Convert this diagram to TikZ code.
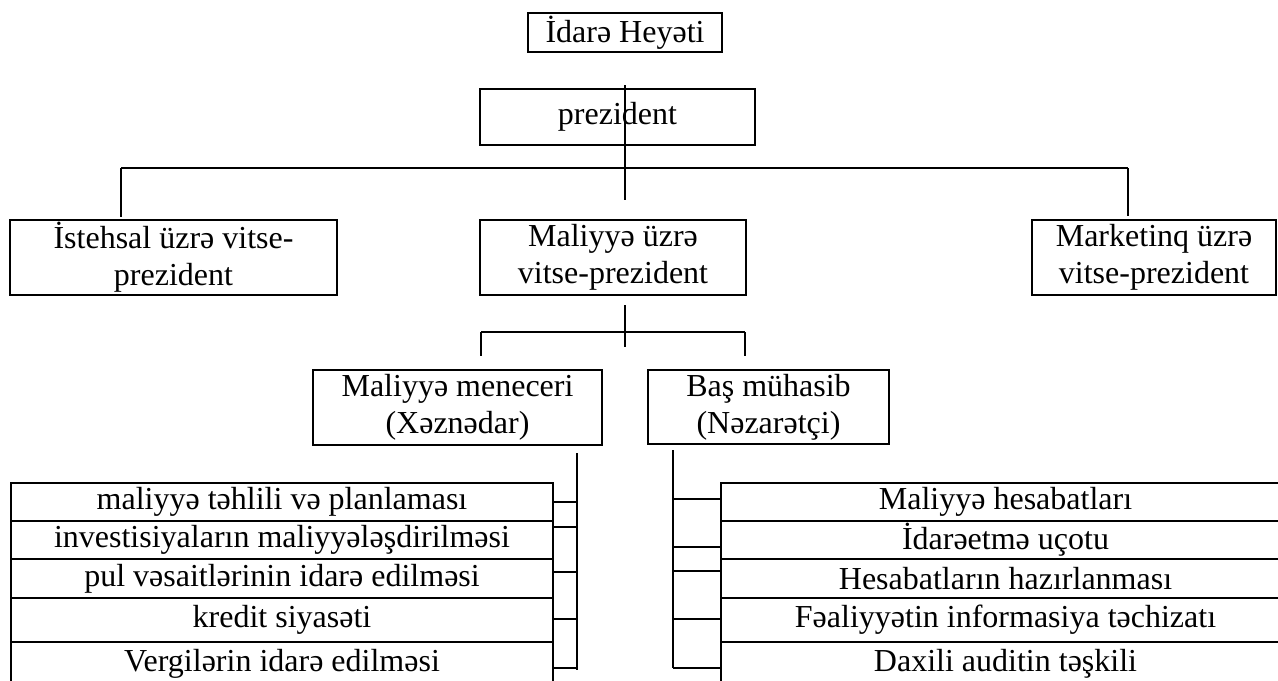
\documentclass[tikz,border=0pt]{standalone}
\usepackage{fontspec}
\setmainfont{Liberation Serif}
\usetikzlibrary{calc}

\tikzset{
    unitbox/.style={draw, line width=0.9pt, align=center, inner sep=0pt,
        font=\fontsize{16}{18.5}\selectfont},
    rowbox/.style={unitbox, minimum height=#1},
    link/.style={line width=0.9pt}
}

\begin{document}
\begin{tikzpicture}[x=0.5pt, y=-0.5pt]
        \useasboundingbox (0,0) rectangle (1278,680);
        % top levels
        \node[unitbox, minimum width=97pt, minimum height=19.5pt](idare)at(625,32.5){İdarə Heyəti};
        \node[unitbox, minimum width=137.5pt, minimum height=28pt](prezident)at(617.5,117){prezident};
        \node[unitbox, minimum width=163.5pt, minimum height=37.5pt](istehsal)at(173.5,257.5){İstehsal üzrə vitse-\\prezident};
        \node[unitbox, minimum width=133pt, minimum height=37.5pt](maliyye)at(613,257.5){Maliyyə üzrə\\vitse-prezident};
        \node[unitbox, minimum width=122pt, minimum height=37.5pt](marketinq)at(1154,257.5){Marketinq üzrə\\vitse-prezident};
        \node[unitbox, minimum width=144.5pt, minimum height=37.5pt](menecer)at(457.5,407.5){Maliyyə meneceri\\(Xəznədar)};
        \node[unitbox, minimum width=120.5pt, minimum height=37pt](muhasib)at(768.5,407){Baş mühasib\\(Nəzarətçi)};

        % lines between levels
        \coordinate(p1)at(625,85);
        \coordinate(p2)at(625,200);
        \coordinate(hl)at(121,168);
        \coordinate(hr)at(1128,168);
        \path[draw, link](p1)to(p2);
        \path[draw, link](hl)to(hr);
        \path[draw, link](hl)to(121,217);
        \path[draw, link](hr)to(1128,216);
        \coordinate(m1)at(625,305);
        \coordinate(m2)at(625,347);
        \coordinate(ml)at(481,332);
        \coordinate(mr)at(745,332);
        \path[draw, link](m1)to(m2);
        \path[draw, link](ml)to(mr);
        \path[draw, link](ml)to(481,356);
        \path[draw, link](mr)to(745,356);

        % left list
        \node[rowbox=19pt, minimum width=271pt](l1)at(282,502){maliyyə təhlili və planlaması};
        \node[rowbox=19pt, minimum width=271pt](l2)at(282,540){investisiyaların maliyyələşdirilməsi};
        \node[rowbox=19.5pt, minimum width=271pt](l3)at(282,578.5){pul vəsaitlərinin idarə edilməsi};
        \node[rowbox=22pt, minimum width=271pt](l4)at(282,620){kredit siyasəti};
        \node[rowbox=21.5pt, minimum width=271pt](l5)at(282,663.5){Vergilərin idarə edilməsi};
        \coordinate(lb1)at(577,453);
        \coordinate(lb2)at(577,670);
        \path[draw, link](lb1)to(lb2);
        \path[draw, link](l1.east|-0,502)to(577,502);
        \path[draw, link](l2.east|-0,527)to(577,527);
        \path[draw, link](l3.east|-0,572)to(577,572);
        \path[draw, link](l4.east|-0,619)to(577,619);
        \path[draw, link](l5.east|-0,668)to(577,668);

        % right list
        \node[rowbox=19pt, minimum width=284.5pt](r1)at(1005.5,502){Maliyyə hesabatları};
        \node[rowbox=19pt, minimum width=284.5pt](r2)at(1005.5,540){İdarəetmə uçotu};
        \node[rowbox=19.5pt, minimum width=284.5pt](r3)at(1005.5,578.5){Hesabatların hazırlanması};
        \node[rowbox=22pt, minimum width=284.5pt](r4)at(1005.5,620){Fəaliyyətin informasiya təchizatı};
        \node[rowbox=21.5pt, minimum width=284.5pt](r5)at(1005.5,663.5){Daxili auditin təşkili};
        \coordinate(rb1)at(673,450);
        \coordinate(rb2)at(673,668);
        \path[draw, link](rb1)to(rb2);
        \path[draw, link](673,499)to(r1.west|-0,499);
        \path[draw, link](673,547)to(r2.west|-0,547);
        \path[draw, link](673,571)to(r3.west|-0,571);
        \path[draw, link](673,619)to(r4.west|-0,619);
        \path[draw, link](rb2)to(r5.west|-0,668);
    \end{tikzpicture}
\end{document}
